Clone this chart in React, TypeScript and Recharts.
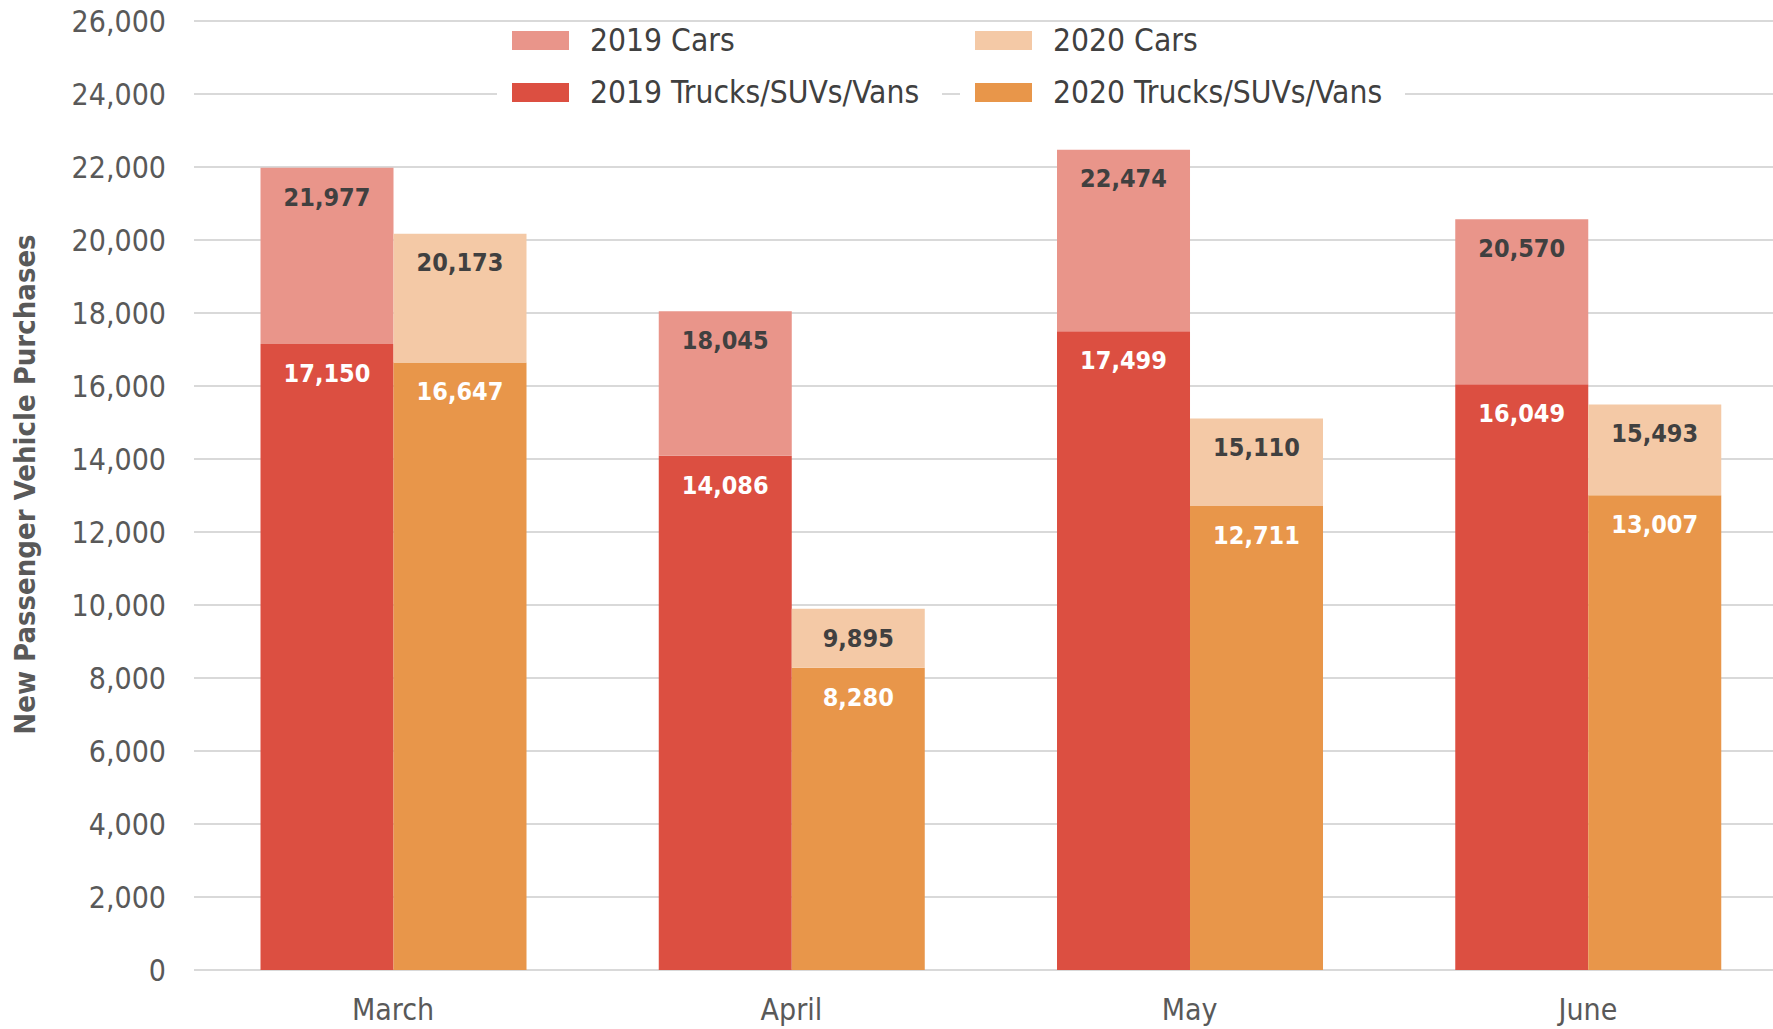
import React from 'react';
import { BarChart, Bar, XAxis, YAxis, CartesianGrid, Legend, LabelList } from 'recharts';

const months = ['March', 'April', 'May', 'June'];
const trucks2019 = [17150, 14086, 17499, 16049];
const cars2019 = [4827, 3959, 4975, 4521];
const total2019 = [21977, 18045, 22474, 20570];
const trucks2020 = [16647, 8280, 12711, 13007];
const cars2020 = [3526, 1615, 2399, 2486];
const total2020 = [20173, 9895, 15110, 15493];
const yTicks = [0, 2000, 4000, 6000, 8000, 10000, 12000, 14000, 16000, 18000, 20000, 22000, 24000, 26000];

const SERIES = [
  { key: 'trucks2019', name: '2019 Trucks/SUVs/Vans', color: '#DC4F41', stack: 'y2019' },
  { key: 'cars2019', name: '2019 Cars', color: '#E9958A', stack: 'y2019' },
  { key: 'trucks2020', name: '2020 Trucks/SUVs/Vans', color: '#E8964A', stack: 'y2020' },
  { key: 'cars2020', name: '2020 Cars', color: '#F4C9A6', stack: 'y2020' },
];
const LEGEND_ORDER = ['cars2019', 'cars2020', 'trucks2019', 'trucks2020'];

const data = months.map((m, i) => ({
  month: m,
  trucks2019: trucks2019[i],
  cars2019: cars2019[i],
  total2019: total2019[i],
  trucks2020: trucks2020[i],
  cars2020: cars2020[i],
  total2020: total2020[i],
}));

const FONT = '"DejaVu Sans Condensed", "DejaVu Sans", sans-serif';
const fmt = (v: any) => Number(v).toLocaleString('en-US');

const LegendContent = (props: any) => {
  const payload = props.payload || [];
  const items = LEGEND_ORDER.map((k) => payload.find((p: any) => p.dataKey === k)).filter(Boolean);
  return (
    <div style={{ display: 'grid', gridTemplateColumns: '463px 463px', rowGap: 16, fontFamily: FONT }}>
      {items.map((p: any) => (
        <div key={p.dataKey} style={{ justifySelf: 'start', display: 'inline-flex', alignItems: 'center', height: 36, background: '#fff', padding: '0 23px 0 15px' }}>
          <span style={{ display: 'inline-block', width: 57, height: 19, background: p.color, marginRight: 21 }} />
          <span style={{ fontSize: 31.5, color: '#404040', lineHeight: '36px', whiteSpace: 'nowrap' }}>{p.value}</span>
        </div>
      ))}
    </div>
  );
};

const YLabel = (props: any) => {
  const vb = props.viewBox || {};
  const cx = 25;
  const cy = vb.y + vb.height / 2 - 11;
  return (
    <text x={cx} y={cy} transform={`rotate(-90, ${cx}, ${cy})`} textAnchor="middle" dominantBaseline="central"
      fill="#595959" fontFamily={FONT} fontWeight="bold" fontSize={29}>
      New Passenger Vehicle Purchases
    </text>
  );
};

export default function App() {
  return (
    <div style={{ position: 'absolute', left: 0, top: 0, width: 1773, height: 1029, overflow: 'hidden', background: '#fff' }}>
      <BarChart width={1787} height={1029} data={data} margin={{ top: 21, right: 0, left: 0, bottom: 0 }}
        barCategoryGap="16.7%" barGap={0}>
        <CartesianGrid vertical={false} stroke="#d9d9d9" strokeWidth={2} />
        <XAxis dataKey="month" axisLine={false} tickLine={false} height={59} tickMargin={23}
          tick={{ fill: '#595959', fontSize: 30, fontFamily: FONT }} />
        <YAxis domain={[0, 26000]} ticks={yTicks} interval={0} axisLine={false} tickLine={false} width={194} tickMargin={22}
          tickFormatter={fmt} tick={{ fill: '#595959', fontSize: 30, fontFamily: FONT }}
          label={<YLabel />} />
        <Legend layout="horizontal" verticalAlign="middle" align="center" content={<LegendContent />}
          wrapperStyle={{ top: 22, left: 497, width: 960 }} />
        {SERIES.map((s) => (
          <Bar key={s.key} dataKey={s.key} name={s.name} stackId={s.stack} fill={s.color} isAnimationActive={false}>
            <LabelList dataKey={s.key.startsWith('cars') ? (s.stack === 'y2019' ? 'total2019' : 'total2020') : s.key}
              position="insideTop" offset={20} formatter={fmt}
              fill={s.key.startsWith('cars') ? '#404040' : '#ffffff'} fontFamily={FONT} fontWeight="bold" fontSize={25} />
          </Bar>
        ))}
      </BarChart>
    </div>
  );
}
